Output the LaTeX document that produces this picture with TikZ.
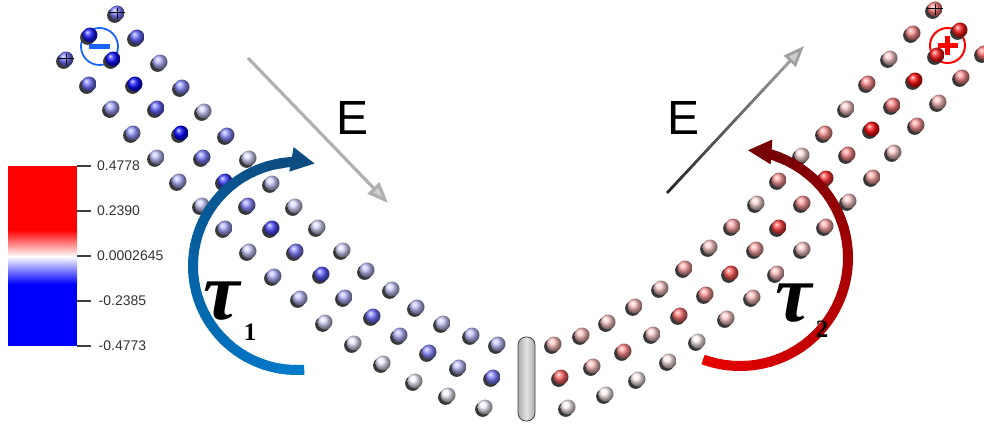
\documentclass[tikz,border=0pt]{standalone}
\usepackage{fontspec}
\setmainfont{Liberation Sans}
\newfontfamily\serifgreek{Liberation Serif}
\usetikzlibrary{arrows.meta,calc}

\definecolor{chargeblue}{RGB}{25,100,255}
\definecolor{taublight}{RGB}{0,122,204}
\definecolor{taubdark}{RGB}{12,76,128}
\definecolor{taurlight}{RGB}{232,0,0}
\definecolor{taurdark}{RGB}{118,0,4}
\definecolor{fieldlo}{RGB}{40,40,40}
\definecolor{fieldhi}{RGB}{160,160,160}

% one charged site: dark cast shadow to the lower left, shaded sphere on top
\newcommand\ionball[4]{%
  \fill[black!78] (#1-2.3,#2+2.3) circle[radius=7.6];
  \shade[ball color=#3!#4!white] (#1,#2) circle[radius=7.5];
}
% thin cross drawn over the end sites
\newcommand\probemark[2]{%
  \draw[black, line width=0.8] (#1-8,#2-1) -- (#1+8,#2-1) (#1,#2-5) -- (#1,#2+6);
}

\begin{document}
\begin{tikzpicture}[x=1pt,y=-1pt,
  ticklbl/.style={font=\fontsize{14}{14}\selectfont, text=black!80, inner sep=0, anchor=west},
  fieldlbl/.style={font=\fontsize{48}{48}\selectfont, inner sep=0},
  taulbl/.style={font=\serifgreek\bfseries\itshape\fontsize{82}{82}\selectfont, inner sep=0},
  sublbl/.style={font=\serifgreek\bfseries\fontsize{25}{25}\selectfont, inner sep=0},
  tickline/.style={draw=black!75, line width=1.3}]

\fill[white] (0,0) rectangle (984,428);
\useasboundingbox (0,0) rectangle (984,428);

% ---- colour bar ----
\fill[red] (8,166) rectangle (77,230);
\shade[top color=red, bottom color=white] (8,230) rectangle (77,256.5);
\shade[top color=white, bottom color=blue] (8,256.5) rectangle (77,284);
\fill[blue] (8,284) rectangle (77,346);
\foreach \ty in {166,211,256,301,346} {\draw[tickline] (77,\ty) -- (91,\ty);}
\node[ticklbl] (t1) at (97,166) {0.4778};
\node[ticklbl] (t2) at (97,211) {0.2390};
\node[ticklbl] (t3) at (97,256) {0.0002645};
\node[ticklbl] (t4) at (98.5,301) {-0.2385};
\node[ticklbl] (t5) at (98.5,346) {-0.4773};

% ---- charge markers (rings under the sites) ----
\node[draw=chargeblue, circle, line width=1.8, minimum size=37, inner sep=0] (neg) at (99.5,46.5) {};
\node[draw=red, circle, line width=2, minimum size=35, inner sep=0] (pos) at (947.5,45.5) {};

% ---- left arm (negative side) ----
\foreach \x/\y/\p in {66/59/55, 89/84/55, 112/108/35, 133/133/40, 157/157/25, 179/181/30,
  202/205/20, 225/228/35, 249/251/20, 274/276/30, 300/298/25, 325/322/15, 354/343/10,
  383/363/8, 415/381/5, 448/395/5, 485/407/5,
  90/35/90, 113/59/95, 135/84/95, 157/108/60, 181/133/100, 203/157/50, 225/181/75,
  248/205/45, 272/228/70, 296/251/50, 322/274/65, 345/297/30, 373/316/55, 400/335/30,
  429/352/45, 459/367/25, 493/377/50,
  117/13/50, 137/37/60, 160/62/30, 182/87/45, 204/111/20, 227/135/45, 249/158/15,
  272/183/20, 295/206/15, 318/227/15, 343/250/15, 367/270/25, 392/289/20, 417/307/25,
  443/323/20, 472/335/25, 498/344/25}
  {\ionball{\x}{\y}{blue}{\p}}

% ---- right arm (positive side) ----
\foreach \x/\y/\p in {935/9/50, 913/33/45, 890/58/20, 868/83/45, 847/108/20, 825/133/40,
  802/155/15, 779/180/40, 757/203/15, 733/226/35, 710/247/20, 685/268/35, 661/288/20,
  635/306/25, 608/322/20, 582/335/25, 554/344/25,
  960/30/90, 937/55/90, 915/80/95, 893/105/50, 872/129/95, 848/154/45, 826/178/80,
  803/203/40, 779/227/75, 756/249/35, 731/273/65, 706/294/40, 680/315/55, 653/334/20,
  624/351/45, 593/366/25, 561/377/60,
  984/53/55, 962/77/45, 939/102/25, 917/125/40, 894/152/20, 873/177/35, 849/201/20,
  826/226/35, 803/249/20, 777/273/25, 753/297/25, 727/318/20, 698/341/5, 669/361/10,
  638/379/5, 606/394/5, 568/407/5}
  {\ionball{\x}{\y}{red}{\p}}

\probemark{117}{13}
\probemark{66}{59}
\probemark{935}{9}

% charge signs
\fill[chargeblue] ($(neg)+(-10.5,-2.3)$) rectangle ($(neg)+(10.5,2.3)$);
\fill[red] ($(pos)+(-10,-2.5)$) rectangle ($(pos)+(10,2.5)$);
\fill[red] ($(pos)+(-2.5,-9.5)$) rectangle ($(pos)+(2.5,9.5)$);

% ---- central pin ----
\shadedraw[draw=gray!50!black, line width=0.8, rounded corners=8,
  left color=gray!65, right color=gray!65, middle color=gray!22] (518,337) rectangle (535,421);

% ---- field arrows ----
\coordinate (f1s) at (248,58);
\coordinate (f1t) at (388,203);
\draw[line width=3.2, gray!62, -{Triangle[length=21pt,width=16pt,fill=gray!36]}] (f1s) -- (f1t);

\coordinate (f2s) at (667,193);
\coordinate (f2t) at (804,46);
\foreach \i in {0,...,17} {
  \pgfmathsetmacro\ta{\i*0.05}
  \pgfmathsetmacro\tb{\i*0.05+0.055}
  \pgfmathsetmacro\m{\i*5.5}
  \draw[line width=2.8, fieldhi!\m!fieldlo] ($(f2s)!\ta!(f2t)$) -- ($(f2s)!\tb!(f2t)$);
}
\draw[line width=2.8, fieldhi, -{Triangle[length=21pt,width=16pt,fill=gray!40]}]
  ($(f2s)!0.85!(f2t)$) -- (f2t);

\node[fieldlbl] (eL) at (353,118) {E};
\node[fieldlbl] (eR) at (683,118) {E};

% ---- torque arcs ----
\coordinate (c1) at (297,266);
\foreach \i in {0,...,39} {
  \pgfmathsetmacro\a{86+4.4*\i}
  \pgfmathsetmacro\b{\a+5}
  \pgfmathsetmacro\m{2.5*\i}
  \draw[line width=10, taubdark!\m!taublight] (c1) ++(\a:104) arc[start angle=\a, end angle=\b, radius=104];
}
\draw[line width=10, taubdark, -{Triangle[length=24pt,width=23pt]}]
  (c1) ++(260:104) arc[start angle=260, end angle=280, radius=104];

\coordinate (c2) at (740,258);
\foreach \i in {0,...,39} {
  \pgfmathsetmacro\a{110-4.5*\i}
  \pgfmathsetmacro\b{\a-5}
  \pgfmathsetmacro\m{2.5*\i}
  \draw[line width=10, taurdark!\m!taurlight] (c2) ++(\a:108) arc[start angle=\a, end angle=\b, radius=108];
}
\draw[line width=10, taurdark, -{Triangle[length=24pt,width=23pt]}]
  (c2) ++(-68:108) arc[start angle=-68, end angle=-86, radius=108];

\node[taulbl] (tau1) at (222,301) {τ};
\node[sublbl] (tau1i) at (250,332) {1};
\node[taulbl] (tau2) at (794,303) {τ};
\node[sublbl] (tau2i) at (822,329) {2};

\end{tikzpicture}
\end{document}
